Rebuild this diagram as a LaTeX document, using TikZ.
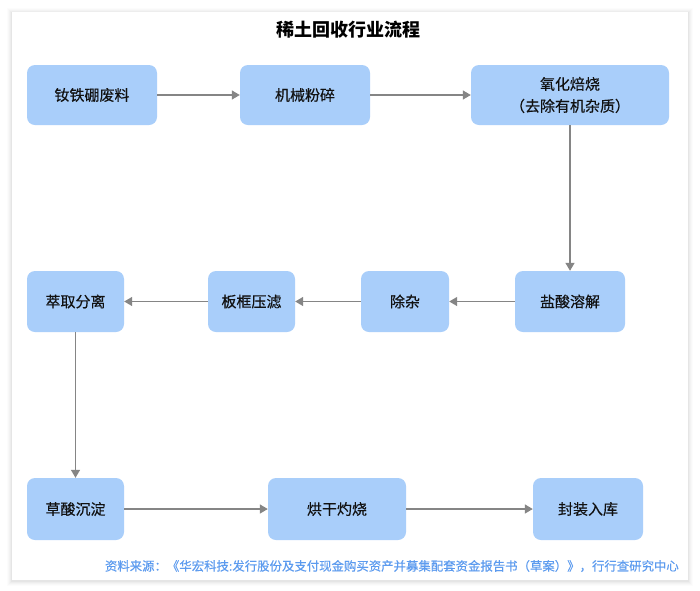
\documentclass[tikz,border=0pt]{standalone}
\usepackage{fontspec}
\setmainfont{Noto Sans CJK SC}
\newfontfamily\cjkmed[FakeBold=0.35]{Noto Sans CJK SC}
\usetikzlibrary{arrows.meta}
\definecolor{boxblue}{HTML}{A9CEFA}
\definecolor{arrowgray}{HTML}{858585}
\definecolor{srcblue}{HTML}{5C9BEF}
\definecolor{txt}{HTML}{111111}
\tikzset{
  stepbox/.style={fill=boxblue, rounded corners=8pt, text=txt, font=\cjkmed\fontsize{15}{22}\selectfont, align=center, inner sep=0pt},
  flow/.style={draw=arrowgray, line width=1.3pt, -{Triangle[width=9pt,length=8pt]}}
}
\begin{document}
\begin{tikzpicture}[x=1pt,y=-1pt]
\useasboundingbox (0,0) rectangle (700,590);
\fill[white] (0,0) rectangle (700,590);
% card shadow
\foreach \i/\o in {5/0.012,4/0.015,3/0.02,2/0.025,1/0.03}{
  \fill[black,opacity=\o] (12-\i,12-\i+1) rectangle (688+\i,580+\i+1);
}
\fill[white] (12,12) rectangle (688,580);

\node[font=\fontsize{18}{20}\selectfont\bfseries, text=black] (title) at (348,30) {稀土回收行业流程};

\node[stepbox, minimum width=130, minimum height=60] (a) at (92,95) {钕铁硼废料};
\node[stepbox, minimum width=130, minimum height=60] (b) at (305,95) {机械粉碎};
\node[stepbox, minimum width=198, minimum height=60] (c) at (570,95) {氧化焙烧\\（去除有机杂质）};
\node[stepbox, minimum width=110, minimum height=61] (d) at (570,301.5) {盐酸溶解};
\node[stepbox, minimum width=88, minimum height=61] (e) at (405,301.5) {除杂};
\node[stepbox, minimum width=87, minimum height=61] (f) at (251.5,301.5) {板框压滤};
\node[stepbox, minimum width=97, minimum height=61] (g) at (75.5,301.5) {萃取分离};
\node[stepbox, minimum width=97, minimum height=62] (h) at (75.5,509) {草酸沉淀};
\node[stepbox, minimum width=138, minimum height=62] (i) at (337,509) {烘干灼烧};
\node[stepbox, minimum width=110, minimum height=62] (j) at (588,509) {封装入库};

\draw[flow] (a) -- (b);
\draw[flow] (b) -- (c);
\draw[flow] (c) -- (d);
\draw[flow] (d) -- (e);
\draw[flow] (e) -- (f);
\draw[flow] (f) -- (g);
\draw[flow] (g) -- (h);
\draw[flow] (h) -- (i);
\draw[flow] (i) -- (j);

\node[anchor=east, text=srcblue, font=\cjkmed\fontsize{12.4}{14}\selectfont, inner sep=0pt] (src) at (679,566) {资料来源：《华宏科技:发行股份及支付现金购买资产并募集配套资金报告书（草案）》，行行查研究中心};
\end{tikzpicture}
\end{document}
